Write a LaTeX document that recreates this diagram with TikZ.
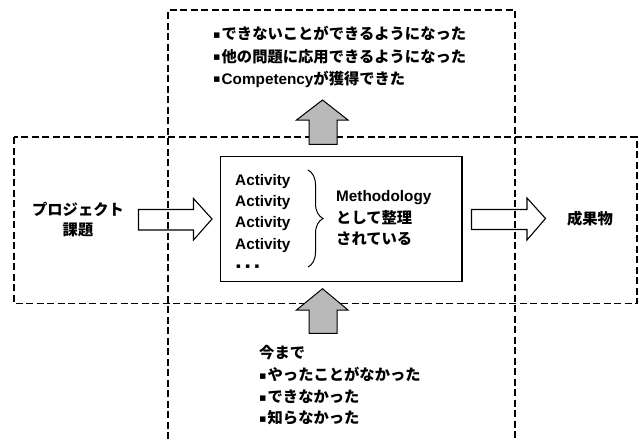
\documentclass[tikz,border=0pt]{standalone}
\usepackage{fontspec}
\setmainfont{Liberation Sans}
\newfontfamily\jp{Noto Sans CJK JP}
\newfontfamily\symf{DejaVu Sans}
\usetikzlibrary{decorations.pathreplacing}
\newcommand\bul{\raisebox{1.2pt}{\symf\fontsize{11}{11}\selectfont ▪}\kern1pt}
\tikzset{
  dbox/.style={draw, line width=1.1pt, dash pattern=on 7pt off 3.5pt},
  txt/.style={inner sep=0pt, font=\fontsize{15.3}{22}\selectfont\bfseries},
  whitearrow/.style={draw, line width=1.1pt, line join=miter},
  grayarrow/.style={draw, line width=1pt, fill=gray!55, line join=miter},
}
\begin{document}
\begin{tikzpicture}[x=1pt,y=-1pt]
\useasboundingbox (0,0) rectangle (639,439);
% dashed frames
\draw[dbox] (168,439) -- (168,10) -- (515,10) -- (515,439);
\draw[dbox] (14,137) rectangle (637,303.3);
% central box
\node[draw, line width=1.3pt, minimum width=241.5pt, minimum height=125pt, inner sep=0pt] (core) at (341.25,219.2) {};
% white arrows
\draw[whitearrow] (138.5,209.5) -- (193.5,209.5) -- (193.5,198.5) -- (212,219) -- (193.5,240) -- (193.5,230) -- (138.5,230) -- cycle;
\draw[whitearrow] (471.5,209.5) -- (527,209.5) -- (527,198) -- (545.5,218.5) -- (527,240) -- (527,229.5) -- (471.5,229.5) -- cycle;
% gray arrows
\draw[grayarrow] (309,144.3) -- (309,120) -- (296.5,120) -- (322.5,100) -- (348,120) -- (337,120) -- (337,144.3) -- cycle;
\draw[grayarrow] (309,333.3) -- (309,310) -- (296.5,310) -- (322.5,288.7) -- (348,310) -- (337,310) -- (337,333.3) -- cycle;
% top list
\node[txt, anchor=base west] (t1) at (213,39.5) {\bul{\jp できないことができるようになった}};
\node[txt, anchor=base west] (t2) at (213,62) {\bul{\jp 他の問題に応用できるようになった}};
\node[txt, anchor=base west] (t3) at (213,84) {\bul Competency{\jp が獲得できた}};
% left / right
\node[txt, anchor=base] (p1) at (78,215) {{\jp プロジェクト}};
\node[txt, anchor=base] (p2) at (78,235.5) {{\jp 課題}};
\node[txt, anchor=base] (out) at (590,224) {{\jp 成果物}};
% activities
\node[txt, anchor=base west] (a1) at (235,185.5) {Activity};
\node[txt, anchor=base west] (a2) at (235,206) {Activity};
\node[txt, anchor=base west] (a3) at (235,227) {Activity};
\node[txt, anchor=base west] (a4) at (235,249) {Activity};
\node[txt, anchor=base west] (a5) at (236,268) {{\symf\fontsize{7}{7}\selectfont ▪\kern4.5pt▪\kern4.5pt▪}};
\draw[decorate, decoration={brace, amplitude=15pt, aspect=0.5}, line width=1pt] (308,170) -- (308,267);
\node[txt, anchor=base west] (m1) at (336,201.5) {Methodology};
\node[txt, anchor=base west] (m2) at (336,223) {{\jp として整理}};
\node[txt, anchor=base west] (m3) at (336,244) {{\jp されている}};
% bottom list
\node[txt, anchor=base west] (b1) at (259,358.5) {{\jp 今まで}};
\node[txt, anchor=base west] (b2) at (259,380.5) {\bul{\jp やったことがなかった}};
\node[txt, anchor=base west] (b3) at (259,402.5) {\bul{\jp できなかった}};
\node[txt, anchor=base west] (b4) at (259,423.5) {\bul{\jp 知らなかった}};
\end{tikzpicture}
\end{document}
